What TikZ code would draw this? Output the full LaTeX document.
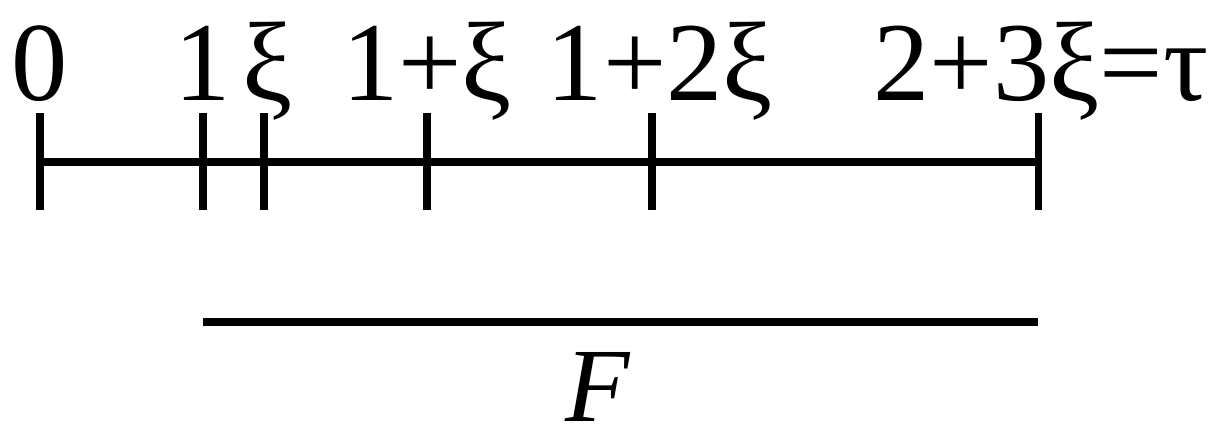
\documentclass[tikz,border=0pt]{standalone}
\usepackage{fontspec}
\setmainfont{Liberation Serif}
\usetikzlibrary{positioning}

\begin{document}
\begin{tikzpicture}[
lbl/.style={anchor=base, inner sep=0pt, font=\fontsize{32}{36}\selectfont},
axis/.style={line width=2pt},
tick/.style={line width=2pt},
]
\useasboundingbox (0,0) rectangle (12.16,4.35);

% tick positions on the time axis
\coordinate (t0) at (0.40,2.73);
\coordinate (t1) at (2.03,2.73);
\coordinate (t2) at (2.64,2.73);
\coordinate (t3) at (4.27,2.73);
\coordinate (t4) at (6.52,2.73);
\coordinate (t5) at (10.38,2.73);

\draw[axis] (t0) -- (t5);
\foreach \t in {t0,t1,t2,t3,t4,t5}
  \draw[tick] ([yshift=-0.48cm]\t) -- ([yshift=0.49cm]\t);

\node[lbl] (l0) at (0.40,3.35) {0};
\node[lbl] (l1) at (2.03,3.35) {1};
\node[lbl] (l2) at (2.68,3.35) {ξ};
\node[lbl] (l3) at (4.27,3.35) {1+ξ};
\node[lbl] (l4) at (6.60,3.35) {1+2ξ};
\node[lbl] (l5) at (10.41,3.35) {2+3ξ=τ};

% segment F
\coordinate (f0) at (2.03,1.13);
\coordinate (f1) at (10.38,1.13);
\draw[axis] (f0) -- (f1);
\node[lbl, text depth=0pt, font=\fontsize{30}{34}\selectfont\itshape] (F) at (5.98,0.14) {F};

\end{tikzpicture}
\end{document}
